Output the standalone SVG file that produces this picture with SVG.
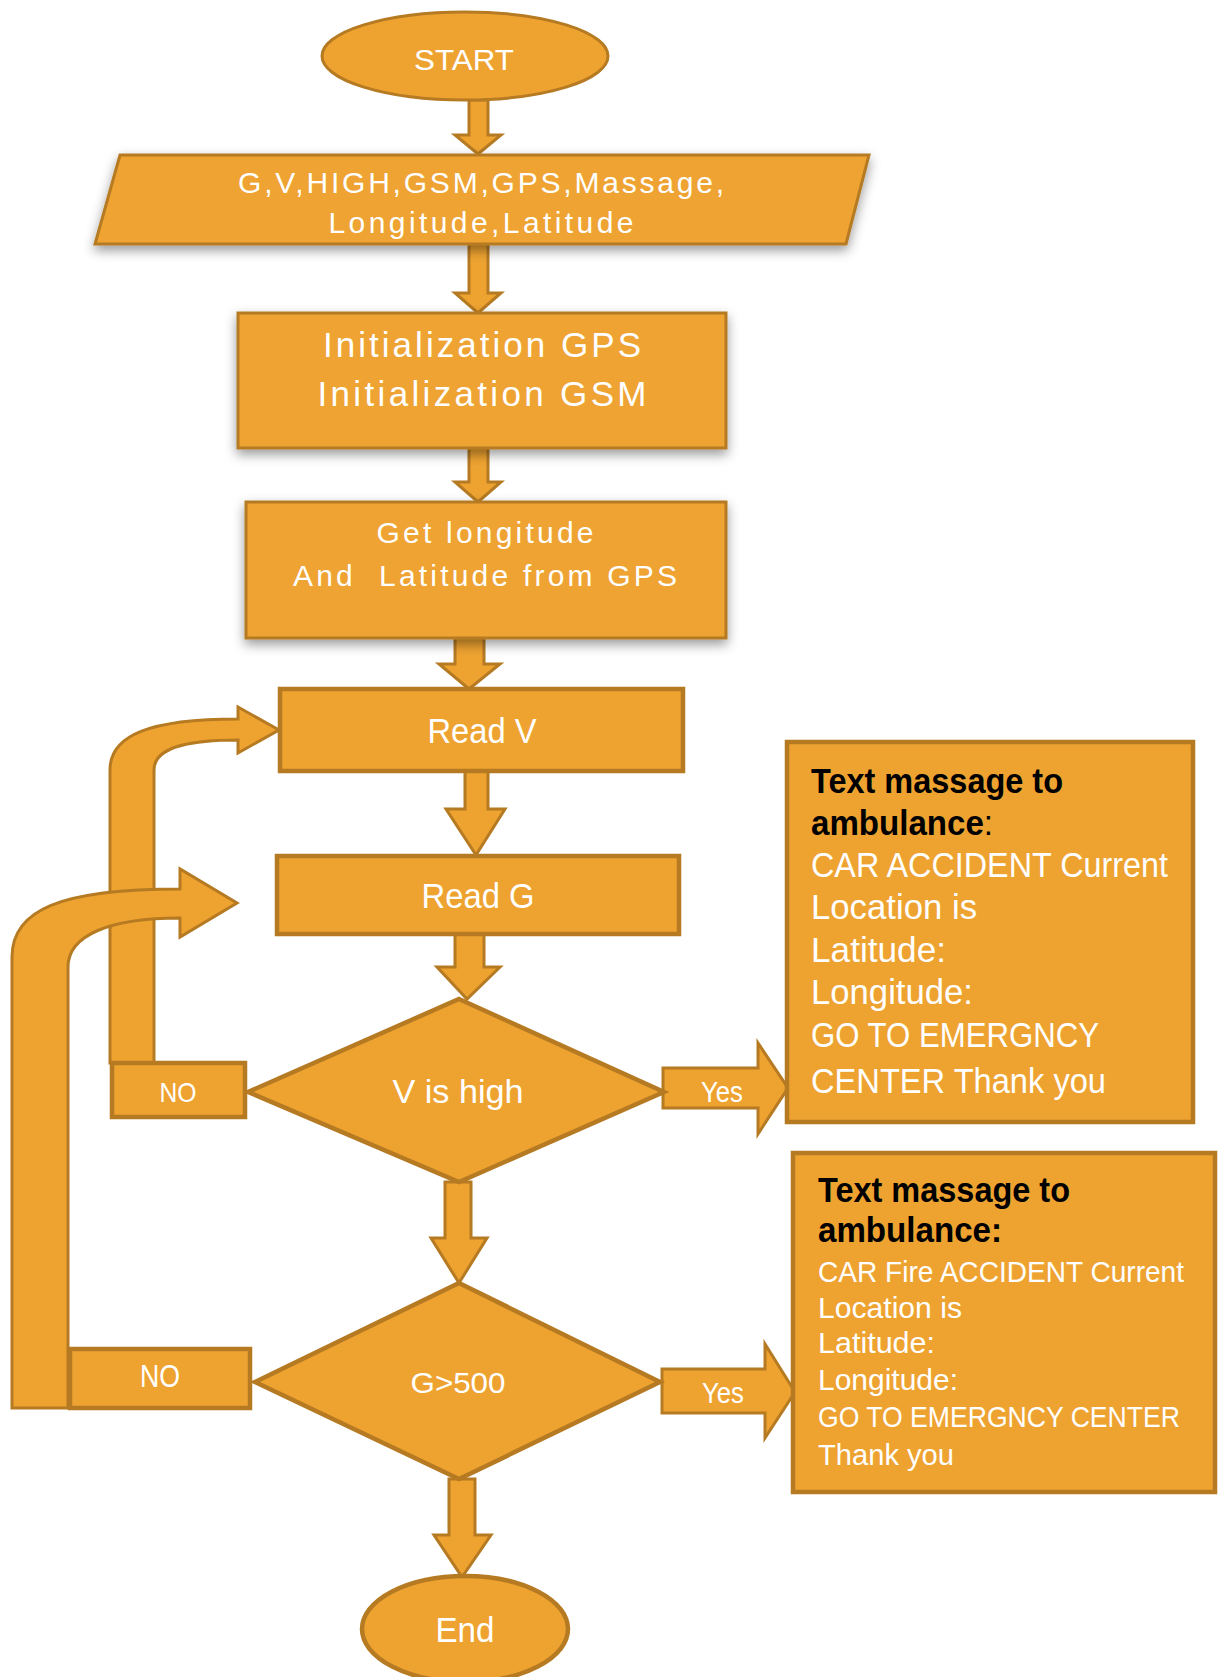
<svg xmlns="http://www.w3.org/2000/svg" width="1221" height="1677" viewBox="0 0 1221 1677">
<defs>
<filter id="sh" x="-10%" y="-20%" width="120%" height="150%">
<feDropShadow dx="0" dy="5" stdDeviation="6" flood-color="#000" flood-opacity="0.4"/>
</filter>
<style>
.s{fill:#EEA331;stroke:#B57A22;stroke-width:3;stroke-linejoin:miter}
.k{stroke-width:4.5}
.t{font-family:"Liberation Sans",Arial,sans-serif;fill:#fff}
.c{text-anchor:middle}
.h{font-weight:bold;fill:#000}
</style>
</defs>
<rect width="1221" height="1677" fill="#fff"/>
<g id="connectors">
<polygon class="s" points="469,100 488,100 488,135 501,135 478,154 455,135 469,135"/>
<polygon class="s" points="469,244 488,244 488,293 501,293 478,313 455,293 469,293"/>
<polygon class="s" points="469,448 488,448 488,482 501,482 478,502 455,482 469,482"/>
<polygon class="s" points="455,638 484,638 484,664 500,664 469,689 439,664 455,664"/>
<polygon class="s" points="465,771 488,771 488,809 505,809 476,855 446,809 465,809"/>
<polygon class="s" points="455,934 484,934 484,967 500,967 467,999 437,967 455,967"/>
<polygon class="s" points="445,1182 471,1182 471,1238 487,1238 459,1283 431,1238 445,1238"/>
<polygon class="s" points="449,1479 475,1479 475,1535 491,1535 462,1577 434,1535 449,1535"/>
<path class="s" d="M110,1063 L110,770 C110,735 150,719 238,719 L238,707 L279,730 L238,753 L238,740 C180,740 154,750 154,770 L154,1063 Z"/>
<path class="s" d="M12,1408 L12,957 C12,910 60,889 180,889 L180,869 L237,903 L180,937 L180,918 C110,918 68,935 68,967 L68,1408 Z"/>
<polygon class="s" points="663,1068 758,1068 758,1043 788,1088 758,1134 758,1108 663,1108"/>
<polygon class="s" points="662,1369 765,1369 765,1344 795,1392 765,1438 765,1413 662,1413"/>
<text class="t c" x="722" y="1102" font-size="30" textLength="42" lengthAdjust="spacingAndGlyphs">Yes</text>
<text class="t c" x="723" y="1403" font-size="30" textLength="42" lengthAdjust="spacingAndGlyphs">Yes</text>
</g>
<g id="start">
<ellipse class="s" cx="465" cy="56" rx="143" ry="44"/>
<text class="t c" x="464" y="70" font-size="30" textLength="100" lengthAdjust="spacingAndGlyphs">START</text>
</g>
<g id="input">
<polygon class="s" filter="url(#sh)" points="120,155 869,155 846,244 95,244"/>
<text class="t c" x="481" y="193" font-size="30" textLength="486" lengthAdjust="spacing">G,V,HIGH,GSM,GPS,Massage,</text>
<text class="t c" x="481" y="233" font-size="30" textLength="305" lengthAdjust="spacing">Longitude,Latitude</text>
</g>
<g id="init">
<rect class="s" filter="url(#sh)" x="238" y="313" width="488" height="135"/>
<text class="t c" x="482" y="357" font-size="35" textLength="318" lengthAdjust="spacing">Initialization GPS</text>
<text class="t c" x="482" y="406" font-size="35" textLength="329" lengthAdjust="spacing">Initialization GSM</text>
</g>
<g id="getpos">
<rect class="s" filter="url(#sh)" x="246" y="502" width="480" height="136"/>
<text class="t c" x="485" y="543" font-size="30" textLength="217" lengthAdjust="spacing">Get longitude</text>
<text class="t c" x="485" y="586" font-size="30" textLength="384" lengthAdjust="spacing" xml:space="preserve">And  Latitude from GPS</text>
</g>
<g id="readv">
<rect class="s k" x="280" y="689" width="403" height="82"/>
<text class="t c" x="482" y="743" font-size="35" textLength="109" lengthAdjust="spacingAndGlyphs">Read V</text>
</g>
<g id="readg">
<rect class="s k" x="277" y="856" width="402" height="78"/>
<text class="t c" x="478" y="908" font-size="35" textLength="113" lengthAdjust="spacingAndGlyphs">Read G</text>
</g>
<g id="vhigh">
<polygon class="s k" points="459,999 664,1092 459,1182 248,1092"/>
<text class="t c" x="458" y="1103" font-size="33" textLength="131" lengthAdjust="spacingAndGlyphs">V is high</text>
</g>
<g id="no1">
<rect class="s k" x="112" y="1063" width="133" height="54"/>
<text class="t c" x="178" y="1102" font-size="28" textLength="37" lengthAdjust="spacingAndGlyphs">NO</text>
</g>
<g id="g500">
<polygon class="s k" points="459,1283 660,1382 459,1479 255,1382"/>
<text class="t c" x="458" y="1393" font-size="30" textLength="95" lengthAdjust="spacingAndGlyphs">G&gt;500</text>
</g>
<g id="no2">
<rect class="s k" x="70" y="1349" width="180" height="59"/>
<text class="t c" x="160" y="1387" font-size="31" textLength="40" lengthAdjust="spacingAndGlyphs">NO</text>
</g>
<g id="msg1">
<rect class="s k" x="787" y="742" width="406" height="380"/>
<text class="t h" x="811" y="793" font-size="35" textLength="252" lengthAdjust="spacingAndGlyphs">Text massage to</text>
<text class="t" x="811" y="835" font-size="35" style="fill:#000" textLength="182" lengthAdjust="spacingAndGlyphs"><tspan font-weight="bold">ambulance</tspan>:</text>
<text class="t" x="811" y="877" font-size="35" textLength="357" lengthAdjust="spacingAndGlyphs">CAR ACCIDENT Current</text>
<text class="t" x="811" y="919" font-size="35" textLength="166" lengthAdjust="spacingAndGlyphs">Location is</text>
<text class="t" x="811" y="962" font-size="35" textLength="135" lengthAdjust="spacingAndGlyphs">Latitude:</text>
<text class="t" x="811" y="1004" font-size="35" textLength="162" lengthAdjust="spacingAndGlyphs">Longitude:</text>
<text class="t" x="811" y="1047" font-size="35" textLength="288" lengthAdjust="spacingAndGlyphs">GO TO EMERGNCY</text>
<text class="t" x="811" y="1093" font-size="35" textLength="295" lengthAdjust="spacingAndGlyphs">CENTER Thank you</text>
</g>
<g id="msg2">
<rect class="s k" x="793" y="1153" width="422" height="339"/>
<text class="t h" x="818" y="1202" font-size="35" textLength="252" lengthAdjust="spacingAndGlyphs">Text massage to</text>
<text class="t h" x="818" y="1242" font-size="35" textLength="184" lengthAdjust="spacingAndGlyphs">ambulance:</text>
<text class="t" x="818" y="1282" font-size="30" textLength="366" lengthAdjust="spacingAndGlyphs">CAR Fire ACCIDENT Current</text>
<text class="t" x="818" y="1318" font-size="30" textLength="144" lengthAdjust="spacingAndGlyphs">Location is</text>
<text class="t" x="818" y="1353" font-size="30" textLength="117" lengthAdjust="spacingAndGlyphs">Latitude:</text>
<text class="t" x="818" y="1390" font-size="30" textLength="140" lengthAdjust="spacingAndGlyphs">Longitude:</text>
<text class="t" x="818" y="1427" font-size="30" textLength="362" lengthAdjust="spacingAndGlyphs">GO TO EMERGNCY CENTER</text>
<text class="t" x="818" y="1465" font-size="30" textLength="136" lengthAdjust="spacingAndGlyphs">Thank you</text>
</g>
<g id="end">
<ellipse class="s k" cx="465" cy="1629" rx="103" ry="53"/>
<text class="t c" x="465" y="1642" font-size="35" textLength="59" lengthAdjust="spacingAndGlyphs">End</text>
</g>
</svg>
